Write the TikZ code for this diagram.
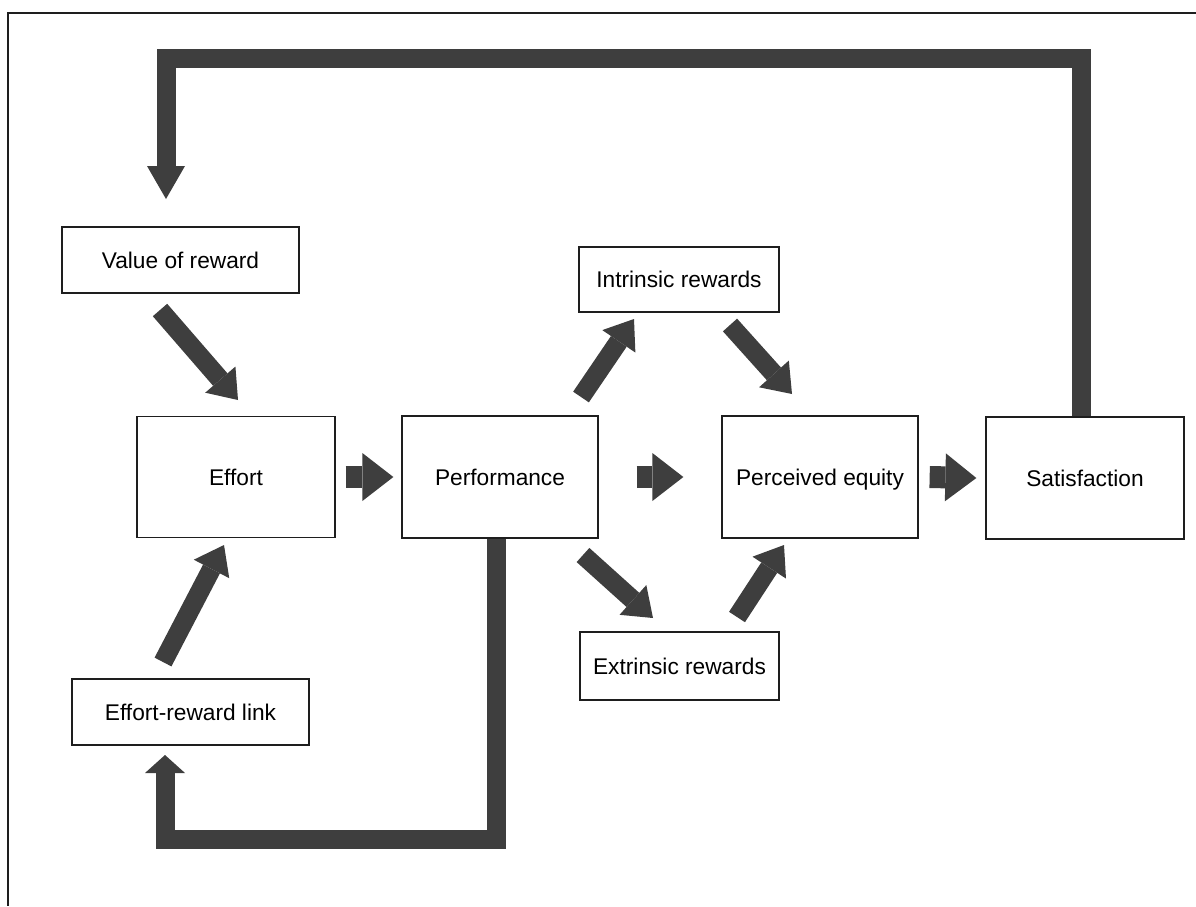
\documentclass[tikz,border=0pt]{standalone}
\usepackage{fontspec}
\setmainfont{Liberation Sans}
\usetikzlibrary{arrows.meta}
\definecolor{ink}{RGB}{30,30,30}
\definecolor{shaft}{RGB}{62,62,62}
\tikzset{
  box/.style={draw=ink, line width=1.3pt, fill=white, inner sep=0pt, align=center,
    text depth=0pt, font=\fontsize{22.7}{27}\selectfont},
  fat/.style={draw=shaft, line width=19pt,
    -{Triangle[width=40pt,length=27pt,line width=0pt]}},
  flow/.style={draw=shaft, line width=22pt,
    -{Triangle[width=48pt,length=31pt,line width=0pt]}},
  loop/.style={draw=shaft, line width=19pt, line join=miter},
}
\begin{document}
\begin{tikzpicture}[x=1pt,y=-1pt]
\useasboundingbox (0,0) rectangle (1196,906);
% frame
\draw[ink, line width=1.5pt] (1196,13) -- (8,13) -- (8,906);

% boxes
\node[box, minimum width=237pt, minimum height=66pt]  (val)  at (180.5,260) {Value of reward};
\node[box, minimum width=198pt, minimum height=121pt] (eff)  at (236,477)   {Effort};
\node[box, minimum width=196pt, minimum height=122pt] (perf) at (500,477)   {Performance};
\node[box, minimum width=196pt, minimum height=122pt] (eq)   at (820,477)   {Perceived equity};
\node[box, minimum width=198pt, minimum height=122pt] (sat)  at (1085,478)  {Satisfaction};
\node[box, minimum width=200pt, minimum height=65pt]  (intr) at (679,279.5) {Intrinsic rewards};
\node[box, minimum width=199pt, minimum height=68pt]  (extr) at (679.5,666) {Extrinsic rewards};
\node[box, minimum width=237pt, minimum height=66pt]  (link) at (190.5,712) {Effort-reward link};

% arrow end points
\coordinate (valOut)  at (160,310);  \coordinate (effInA)  at (238,400);
\coordinate (linkOut) at (163,662);  \coordinate (effInB)  at (224,545);
\coordinate (perfUp)  at (581,397);  \coordinate (intrIn)  at (634,319);
\coordinate (intrOut) at (730,325);  \coordinate (eqInA)   at (792,394);
\coordinate (perfDn)  at (583,555);  \coordinate (extrIn)  at (653,618);
\coordinate (extrOut) at (737,617);  \coordinate (eqInB)   at (784,545);
\coordinate (valIn)   at (166,199);
\coordinate (linkIn)  at (165,755);

% straight flow arrows
\draw[flow] ([xshift=10pt]eff.east)  -- ([xshift=-8pt]perf.west);
\draw[flow] ([xshift=38pt]perf.east) -- ([xshift=-38pt]eq.west);
\draw[flow] ([xshift=11pt]eq.east)   -- ([xshift=-9pt]sat.west);

% diagonal arrows
\draw[fat] (valOut)  -- (effInA);
\draw[fat] (linkOut) -- (effInB);
\draw[fat] (perfUp)  -- (intrIn);
\draw[fat] (intrOut) -- (eqInA);
\draw[fat] (perfDn)  -- (extrIn);
\draw[fat] (extrOut) -- (eqInB);

% feedback loops
\draw[loop, -{Triangle[width=38pt,length=33pt,line width=0pt]}]
  ([xshift=-4pt]sat.north) -- ++(0,-358) -| (valIn);
\draw[loop, -{Triangle[width=40pt,length=18pt,line width=0pt]}]
  ([xshift=-4pt]perf.south) -- ++(0,301) -| (linkIn);
\end{tikzpicture}
\end{document}
